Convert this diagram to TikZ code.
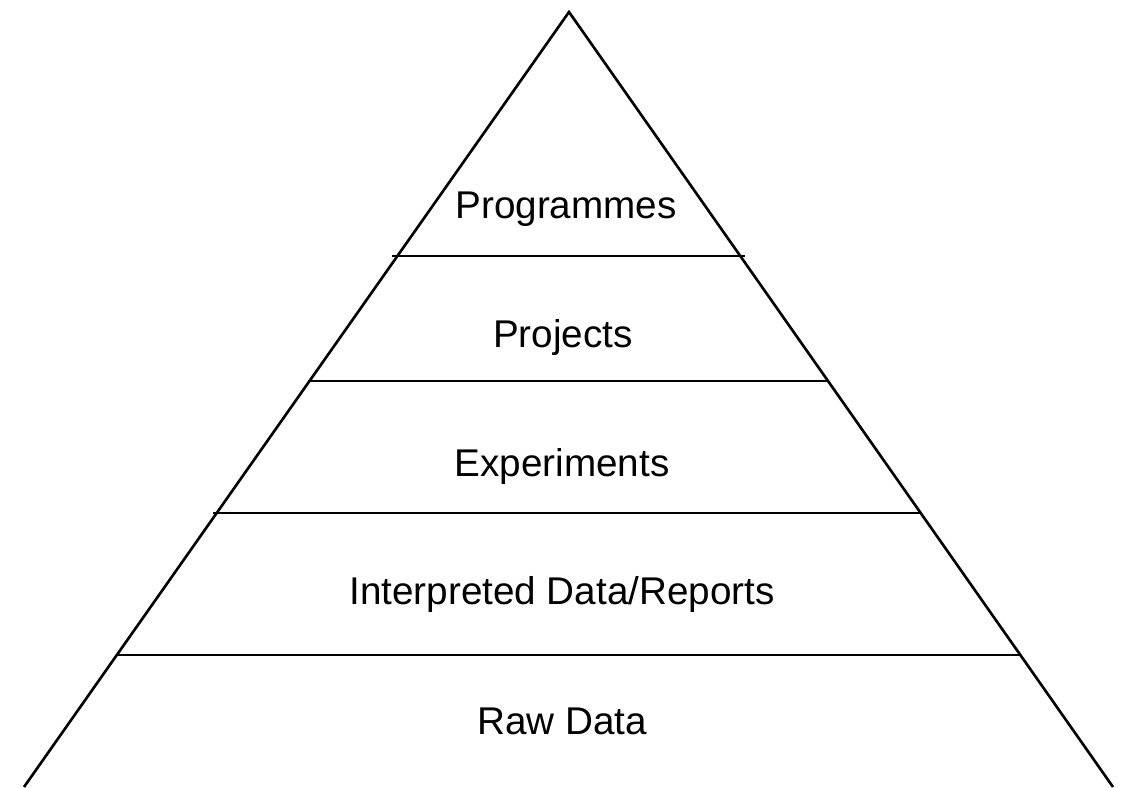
\documentclass[tikz,border=0pt]{standalone}
\usepackage{fontspec}
\setmainfont{Liberation Sans}
\usetikzlibrary{positioning, calc}

\begin{document}
\begin{tikzpicture}[x=0.02cm, y=-0.02cm, line width=1.5pt,
    level/.style={font=\fontsize{22}{26}\selectfont, inner sep=0pt}]
            \useasboundingbox (0,0) rectangle (1124,787);
            % outline of the pyramid
            \coordinate (apex) at (569,12);
            \coordinate (baseL) at (24,787);
            \coordinate (baseR) at (1113,787);
            \draw (baseL)--(apex)--(baseR);
            % dividing lines
            \coordinate (l1) at (392,256); \coordinate (r1) at (745,256);
            \coordinate (l2) at (308,381); \coordinate (r2) at (828,381);
            \coordinate (l3) at (213,513); \coordinate (r3) at (922,513);
            \coordinate (l4) at (117,655); \coordinate (r4) at (1020,655);
            \draw (l1)--(r1);
            \draw (l2)--(r2);
            \draw (l3)--(r3);
            \draw (l4)--(r4);
            % labels
            \node[level] (prog) at (566,209){Programmes};
            \node[level] (proj) at (563,338){Projects};
            \node[level] (exp) at (562,466){Experiments};
            \node[level] (interp) at (562,594){Interpreted Data/Reports};
            \node[level] (raw) at (562,721){Raw Data};
        \end{tikzpicture}
\end{document}
